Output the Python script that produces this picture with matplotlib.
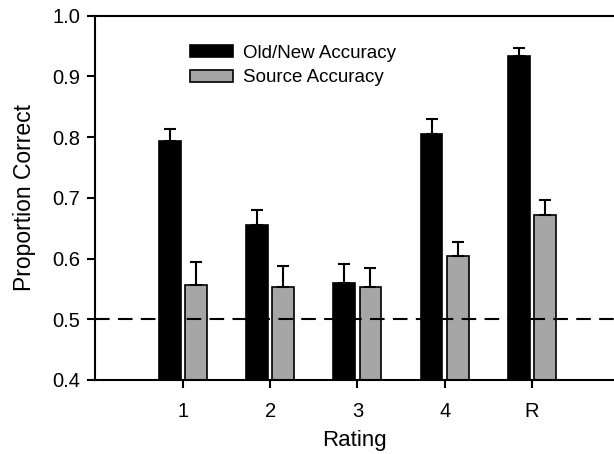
import matplotlib.pyplot as plt
import numpy as np

plt.rcParams["font.family"] = ["Liberation Sans", "DejaVu Sans"]

ratings = ["1", "2", "3", "4", "R"]
old_new = [0.793, 0.655, 0.560, 0.805, 0.933]
old_new_err = [0.021, 0.025, 0.031, 0.025, 0.013]
source = [0.556, 0.553, 0.553, 0.605, 0.672]
source_err = [0.039, 0.034, 0.031, 0.023, 0.024]
chance = 0.5

GREY = "#a6a6a6"

x = np.arange(1, len(ratings) + 1)
w = 0.25
off = 0.15

fig = plt.figure(figsize=(6.14, 4.54), dpi=100)
ax = fig.add_axes([0.1555, 0.163, 0.8445, 0.8024])

zeros = np.zeros(len(x))
ekw = dict(elinewidth=1.5, capthick=1.5, ecolor="black")
ax.bar(x - off, old_new, w, color="black", edgecolor="black", linewidth=1.2,
       yerr=[zeros, old_new_err], capsize=4.3, error_kw=ekw,
       label="Old/New Accuracy", zorder=2)
ax.bar(x + off, source, w, color=GREY, edgecolor="black", linewidth=1.2,
       yerr=[zeros, source_err], capsize=4.3, error_kw=ekw,
       label="Source Accuracy", zorder=2)

# chance line
ax.axhline(chance, color="black", linewidth=1.5, dashes=(7, 4), zorder=3)

ax.set_xlim(0, 5.94)
ax.set_ylim(0.4, 1.0)
ax.set_xticks(x)
ax.set_xticklabels(ratings)
yt = np.arange(0.4, 1.01, 0.1)
ax.set_yticks(yt)
ax.set_yticklabels([f"{v:.1f}" for v in yt])
ax.tick_params(direction="out", length=6, width=1.5, labelsize=14.5)
ax.tick_params(axis="y", pad=5)
ax.tick_params(axis="x", pad=10)
for sp in ("left", "bottom", "top"):
    ax.spines[sp].set_linewidth(1.5)
ax.spines["right"].set_visible(False)

ax.set_xlabel("Rating", fontsize=16, labelpad=6)
ax.set_ylabel("Proportion Correct", fontsize=16.5, labelpad=12)

ax.legend(loc="upper left", bbox_to_anchor=(0.182, 0.92), frameon=False,
          fontsize=13.5, borderpad=0, borderaxespad=0, handlelength=2.3,
          handleheight=0.6, handletextpad=0.55, labelspacing=0.4)

fig.savefig("out.png", dpi=100, facecolor="white")
